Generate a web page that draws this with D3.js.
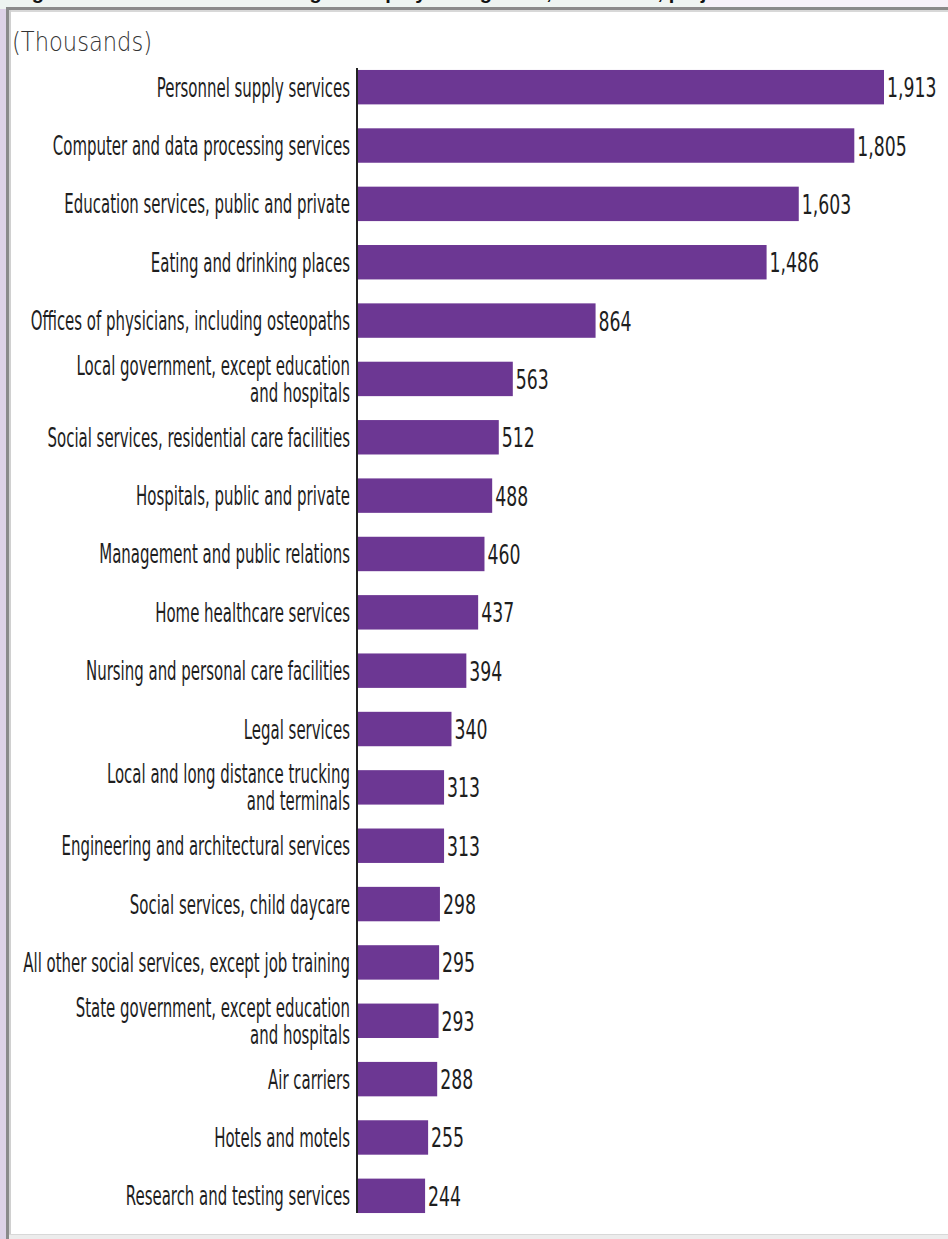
<!DOCTYPE html>
<html><head><meta charset="utf-8">
<script src="https://cdn.jsdelivr.net/npm/d3@7"></script>
<style>
html,body{margin:0;padding:0;background:#fff;}
svg{display:block;}
</style></head>
<body>
<svg id="chart" width="948" height="1239"></svg>
<script>
const categories = [
  "Personnel supply services",
  "Computer and data processing services",
  "Education services, public and private",
  "Eating and drinking places",
  "Offices of physicians, including osteopaths",
  "Local government, except education\nand hospitals",
  "Social services, residential care facilities",
  "Hospitals, public and private",
  "Management and public relations",
  "Home healthcare services",
  "Nursing and personal care facilities",
  "Legal services",
  "Local and long distance trucking\nand terminals",
  "Engineering and architectural services",
  "Social services, child daycare",
  "All other social services, except job training",
  "State government, except education\nand hospitals",
  "Air carriers",
  "Hotels and motels",
  "Research and testing services"
];
const values = [1913, 1805, 1603, 1486, 864, 563, 512, 488, 460, 437, 394, 340, 313, 313, 298, 295, 293, 288, 255, 244];
const unitLabel = "(Thousands)";
const titleText = "Figure 3. Industries with the largest employment growth, 1996–2006, projected";

const svg = d3.select("#chart");
const FONT = "'DejaVu Sans Condensed', 'Liberation Sans Narrow', sans-serif";

// frame / page chrome
svg.append("rect").attr("x",0).attr("y",0).attr("width",948).attr("height",1239).attr("fill","#fff");
svg.append("rect").attr("x",0).attr("y",0).attr("width",948).attr("height",9).attr("fill","#f7f1f9");
svg.append("rect").attr("x",0).attr("y",0).attr("width",705).attr("height",9).attr("fill","#eef4f1");
svg.append("rect").attr("x",0).attr("y",9).attr("width",6).attr("height",1230).attr("fill","#ddd2e6");
svg.append("text").attr("x",14).attr("y",-1)
  .attr("font-family","'Liberation Sans', Arial, sans-serif").attr("font-weight","bold")
  .attr("font-size",20).attr("fill","#111").text(titleText);
svg.append("rect").attr("x",6).attr("y",7).attr("width",942).attr("height",3).attr("fill","#8a8a8a");
svg.append("rect").attr("x",6).attr("y",10).attr("width",942).attr("height",2).attr("fill","#d8d8d8");
svg.append("rect").attr("x",6).attr("y",7).attr("width",3).attr("height",1232).attr("fill","#8a8a8a");
svg.append("rect").attr("x",9).attr("y",10).attr("width",2).attr("height",1229).attr("fill","#d0d0d0");
svg.append("rect").attr("x",9).attr("y",1234).attr("width",939).attr("height",5).attr("fill","#ececec");
svg.append("rect").attr("x",9).attr("y",1234).attr("width",939).attr("height",1).attr("fill","#d8d8d8");

svg.append("text").attr("transform","translate(12,51) scale(0.87,1)")
  .attr("font-family","'DejaVu Sans', sans-serif")
  .attr("font-weight",200).attr("font-size",26).attr("fill","#333").text(unitLabel);

const x = d3.scaleLinear().domain([0, 1913]).range([358, 884]);
const y = d3.scaleBand().domain(categories).range([58, 1225]).paddingInner(0.41).paddingOuter(0.205);

svg.append("g").selectAll("rect").data(categories).join("rect")
  .attr("x", x(0))
  .attr("y", d => y(d))
  .attr("width", (d,i) => x(values[i]) - x(0))
  .attr("height", y.bandwidth())
  .attr("fill", "#6c3793");

// axis line
svg.append("line").attr("x1",357).attr("x2",357).attr("y1",y(categories[0]) - 2).attr("y2",y(categories[categories.length-1])+y.bandwidth())
  .attr("stroke","#222").attr("stroke-width",2);

// category labels
const LAB_SX = 0.64;
const lab = svg.append("g").selectAll("text").data(categories).join("text")
  .attr("transform", d => `translate(350,${y(d) + y.bandwidth()/2 + 9.5}) scale(${LAB_SX},1)`)
  .attr("text-anchor","end")
  .attr("font-family", FONT)
  .attr("font-size", 26)
  .attr("fill","#1e1e1e");
lab.each(function(d){
  const lines = d.split("\n");
  const lh = 27;
  const t = d3.select(this);
  lines.forEach((ln, k) => {
    t.append("tspan").attr("x",0)
      .attr("y", (k - (lines.length-1)/2)*lh)
      .text(ln);
  });
});

// value labels
svg.append("g").selectAll("text").data(categories).join("text")
  .attr("transform", (d,i) => `translate(${x(values[i]) + 3},${y(d) + y.bandwidth()/2 + 10}) scale(0.74,1)`)
  .attr("font-family", FONT)
  .attr("font-size", 26)
  .attr("fill","#1e1e1e")
  .text((d,i) => d3.format(",")(values[i]));
</script>
</body></html>
